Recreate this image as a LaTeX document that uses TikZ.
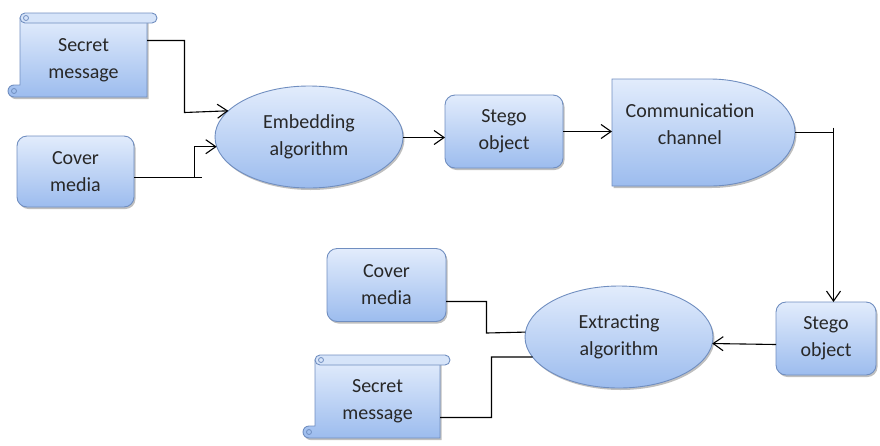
\documentclass[tikz,border=0pt]{standalone}
\usepackage{fontspec}
\setmainfont{Carlito}
\usetikzlibrary{arrows.meta,shapes.geometric,shadows,calc}
\definecolor{topc}{RGB}{226,236,252}
\definecolor{botc}{RGB}{156,188,238}
\definecolor{bordc}{RGB}{112,142,192}
\definecolor{bandc}{RGB}{214,228,249}
\definecolor{txtc}{RGB}{40,40,40}
\tikzset{
  fillsty/.style={draw=bordc, line width=0.9pt, top color=topc, bottom color=botc,
    drop shadow={shadow xshift=1.5pt, shadow yshift=-2pt, opacity=0.25, fill=black}},
  txt/.style={font=\fontsize{20}{27}\selectfont, text=txtc, align=center, inner sep=0pt, outer sep=0pt},
  rbox/.style={txt, fillsty, rectangle, rounded corners=10pt},
  ell/.style={txt, fillsty, ellipse, minimum width=188pt, minimum height=102pt},
  arr/.style={line width=1.1pt, -{Straight Barb[length=10pt,width=14pt,line width=1.1pt]}},
  ln/.style={line width=1.1pt}
}
\newcommand\myscroll[4]{%
  \path[fillsty] (#1,#2+5) -- (#3,#2+5) -- (#3,#4) -- (#1-6,#4)
     arc[start angle=-90,end angle=-270,radius=6pt] -- (#1,#4-12) -- cycle;
  \draw[bordc, line width=0.8pt] (#1-6,#4-6) circle[radius=2.5pt];
  \path[draw=bordc, line width=0.9pt, fill=bandc, rounded corners=5pt] (#1,#2) rectangle (#3+10,#2+10);
  \draw[bordc, line width=0.8pt] (#1+6,#2+5) circle[radius=2.5pt];
}
\begin{document}
\begin{tikzpicture}[x=1pt,y=-1pt]
\useasboundingbox (0,0) rectangle (880,445);
% shapes
\myscroll{20}{13}{147}{97}
\node[txt, minimum width=127pt, minimum height=74pt] (sm1) at (83.5,60) {Secret\\message};
\node[rbox, minimum width=117pt, minimum height=71pt] (cm1) at (75.5,171.5) {Cover\\media};
\node[ell] (emb) at (309,137) {Embedding\\algorithm};
\node[rbox, minimum width=118pt, minimum height=73pt] (so1) at (504,131.5) {Stego\\object};
% communication channel
\node[minimum width=183pt, minimum height=107pt, inner sep=0pt, outer sep=0pt] (cc) at (703.5,132.5) {};
\path[fillsty] (cc.south west) -- (cc.north west) -- (710,79)
   arc[start angle=90,end angle=-90,x radius=85pt,y radius=53.5pt] -- cycle;
\node[txt] (cct) at (690,124) {Communication\\channel};
\node[rbox, minimum width=100pt, minimum height=73pt] (so2) at (826,338.5) {Stego\\object};
\node[ell] (ext) at (619,337) {Extracting\\algorithm};
\node[rbox, minimum width=119pt, minimum height=73pt] (cm2) at (386.5,285) {Cover\\media};
\myscroll{315}{355}{440}{438}
\node[txt, minimum width=125pt, minimum height=73pt] (sm2) at (377.5,401.5) {Secret\\message};
% connectors
\draw[arr] ([yshift=19.5pt]sm1.east) -| (184.5,112.5) -- (emb.162.6);
\draw[ln] ([yshift=-6pt]cm1.east) -- (202,177.5);
\draw[arr] (194.5,177.5) |- (emb.186.2);
\draw[arr] ([yshift=-0.5pt]emb.east) -- ([yshift=-0.5pt]emb.east -| so1.west);
\draw[arr] (so1.east) -- (so1.east -| cc.west);
\coordinate (bend) at (833.5,132.5);
\draw[ln] (cc.east) -- (bend);
\draw[arr] ([yshift=5pt]bend) -- (bend |- so2.north);
\draw[arr] ([yshift=-6pt]so2.west) -- (ext.-4.6);
\draw[ln] ([yshift=-16.5pt]cm2.east) -| (486.5,333) -- (ext.177.6);
\draw[ln] ([yshift=-16pt]sm2.east) -| (491.5,357) -- (ext.193);
\end{tikzpicture}
\end{document}
